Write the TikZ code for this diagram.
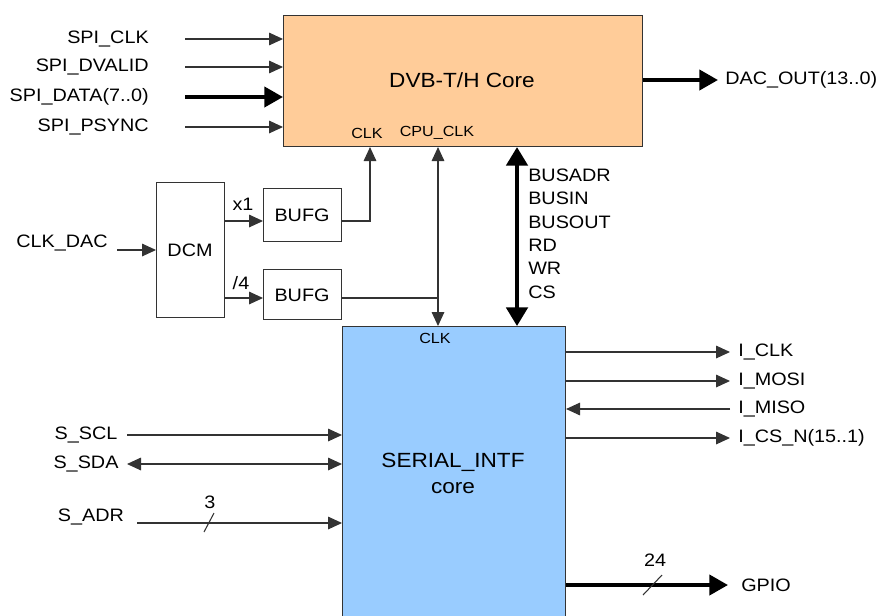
\documentclass[tikz,border=0pt]{standalone}
\usepackage{fontspec}
\setmainfont{Liberation Sans}[FakeStretch=1.1]
\usetikzlibrary{arrows.meta}
\definecolor{peach}{HTML}{FFCC99}
\definecolor{lblue}{HTML}{99CCFF}
\definecolor{edge}{HTML}{333333}
\tikzset{
  blk/.style={draw=edge, line width=0.8pt, anchor=north west, inner sep=0pt},
  lbl/.style={font=\fontsize{13.5}{16}\selectfont, inner sep=0pt},
  big/.style={font=\fontsize{15.4}{18}\selectfont, inner sep=0pt},
  sml/.style={font=\fontsize{11}{13}\selectfont, inner sep=0pt},
  sig/.style={draw=edge, line width=0.8pt, -{Triangle[length=10.5pt,width=9.5pt]}},
  sigb/.style={draw=edge, line width=0.8pt, {Triangle[length=10.5pt,width=9.5pt]}-{Triangle[length=10.5pt,width=9.5pt]}},
  bus/.style={draw=black, line width=3pt, -{Triangle[length=14pt,width=15pt]}},
  busb/.style={draw=black, line width=3pt, {Triangle[length=14pt,width=16pt]}-{Triangle[length=14pt,width=16pt]}},
  plain/.style={draw=edge, line width=0.8pt},
}
\begin{document}
\begin{tikzpicture}[x=0.75pt,y=-0.75pt]
\useasboundingbox (0,0) rectangle (880,615);
% blocks
\node[blk, fill=peach, minimum width=359*0.75pt, minimum height=131*0.75pt] (dvb) at (283,15) {};
\node[blk, fill=white, minimum width=68*0.75pt, minimum height=135*0.75pt] (dcm) at (156,182) {};
\node[blk, fill=white, minimum width=78*0.75pt, minimum height=53*0.75pt] (bufa) at (263,188) {};
\node[blk, fill=white, minimum width=78*0.75pt, minimum height=50*0.75pt] (bufb) at (263,269) {};
\node[blk, fill=lblue, minimum width=223*0.75pt, minimum height=300*0.75pt] (ser) at (342,326) {};
% block texts
\node[big] (dvbt) at (462,80) {DVB-T/H Core};
\node[sml] (dclk) at (367,133) {CLK};
\node[sml] (dcpu) at (437,133) {CPU\_CLK};
\node[lbl] (dcmt) at (190,250) {DCM};
\node[lbl] (bufat) at (302,215) {BUFG};
\node[lbl] (bufbt) at (302,295) {BUFG};
\node[sml] (sclk) at (435,338) {CLK};
\node[big] (sert) at (453,462) {SERIAL\_INTF};
\node[big] (serc) at (453,488) {core};
% SPI inputs
\node[lbl, anchor=east] (l1) at (149,39) {SPI\_CLK};
\node[lbl, anchor=east] (l2) at (149,67) {SPI\_DVALID};
\node[lbl, anchor=east] (l3) at (149,97) {SPI\_DATA(7..0)};
\node[lbl, anchor=east] (l4) at (149,127) {SPI\_PSYNC};
\coordinate (s1) at (185,39);
\coordinate (s2) at (185,67);
\coordinate (s3) at (185,97);
\coordinate (s4) at (185,127);
\draw[sig] (s1) -- (s1 -| dvb.west);
\draw[sig] (s2) -- (s2 -| dvb.west);
\draw[bus] (s3) -- (s3 -| dvb.west);
\draw[sig] (s4) -- (s4 -| dvb.west);
% DAC out
\coordinate (dacE) at (718,80);
\draw[bus] (dacE -| dvb.east) -- (dacE);
\node[lbl, anchor=west] (dact) at (725,80) {DAC\_OUT(13..0)};
% clock
\node[lbl] (clkdac) at (62,243) {CLK\_DAC};
\coordinate (cd) at (117,250);
\draw[sig] (cd) -- (cd -| dcm.west);
\coordinate (ya) at (0,221);
\coordinate (yb) at (0,298);
\draw[sig] (dcm.east |- ya) -- (bufa.west |- ya);
\draw[sig] (dcm.east |- yb) -- (bufb.west |- yb);
\node[lbl] (x1) at (243,204) {x1};
\node[lbl] (d4) at (241,283) {/4};
\coordinate (ca) at (370,221);
\draw[sig] (bufa.east |- ca) -- (ca) -- (ca |- dvb.south);
\coordinate (J) at (438,298);
\draw[plain] (bufb.east |- J) -- (J);
\draw[sig] (J) -- (J |- dvb.south);
\draw[sig] (J) -- (J |- ser.north);
% bus
\coordinate (bx) at (517,0);
\draw[busb] (bx |- dvb.south) -- (bx |- ser.north);
\node[lbl, anchor=west] (b1) at (528,175) {BUSADR};
\node[lbl, anchor=west] (b2) at (528,198) {BUSIN};
\node[lbl, anchor=west] (b3) at (528,222) {BUSOUT};
\node[lbl, anchor=west] (b4) at (528,245) {RD};
\node[lbl, anchor=west] (b5) at (528,268) {WR};
\node[lbl, anchor=west] (b6) at (528,292) {CS};
% right side of serial
\coordinate (r1) at (730,352);
\coordinate (r2) at (730,381);
\coordinate (r3) at (730,409);
\coordinate (r4) at (730,438);
\draw[sig] (r1 -| ser.east) -- (r1);
\draw[sig] (r2 -| ser.east) -- (r2);
\draw[sig] (r3) -- (r3 -| ser.east);
\draw[sig] (r4 -| ser.east) -- (r4);
\node[lbl, anchor=west] (rt1) at (738,352) {I\_CLK};
\node[lbl, anchor=west] (rt2) at (738,381) {I\_MOSI};
\node[lbl, anchor=west] (rt3) at (738,409) {I\_MISO};
\node[lbl, anchor=west] (rt4) at (738,438) {I\_CS\_N(15..1)};
% left side of serial
\node[lbl] (ls1) at (86,435) {S\_SCL};
\node[lbl] (ls2) at (86,464) {S\_SDA};
\node[lbl] (ls3) at (91,517) {S\_ADR};
\coordinate (q1) at (127,435);
\coordinate (q2) at (127,464);
\coordinate (q3) at (137,523);
\draw[sig] (q1) -- (q1 -| ser.west);
\draw[sigb] (q2) -- (q2 -| ser.west);
\draw[sig] (q3) -- (q3 -| ser.west);
\coordinate (sa1) at (204,532);
\coordinate (sa2) at (214,513);
\draw[plain] (sa1) -- (sa2);
\node[lbl] (n3) at (210,502) {3};
% GPIO
\coordinate (g) at (728,585);
\draw[bus] (g -| ser.east) -- (g);
\coordinate (sg1) at (643,595);
\coordinate (sg2) at (662,575);
\draw[plain] (sg1) -- (sg2);
\node[lbl] (n24) at (655,560) {24};
\node[lbl, anchor=west] (gp) at (741,585) {GPIO};
\end{tikzpicture}
\end{document}
